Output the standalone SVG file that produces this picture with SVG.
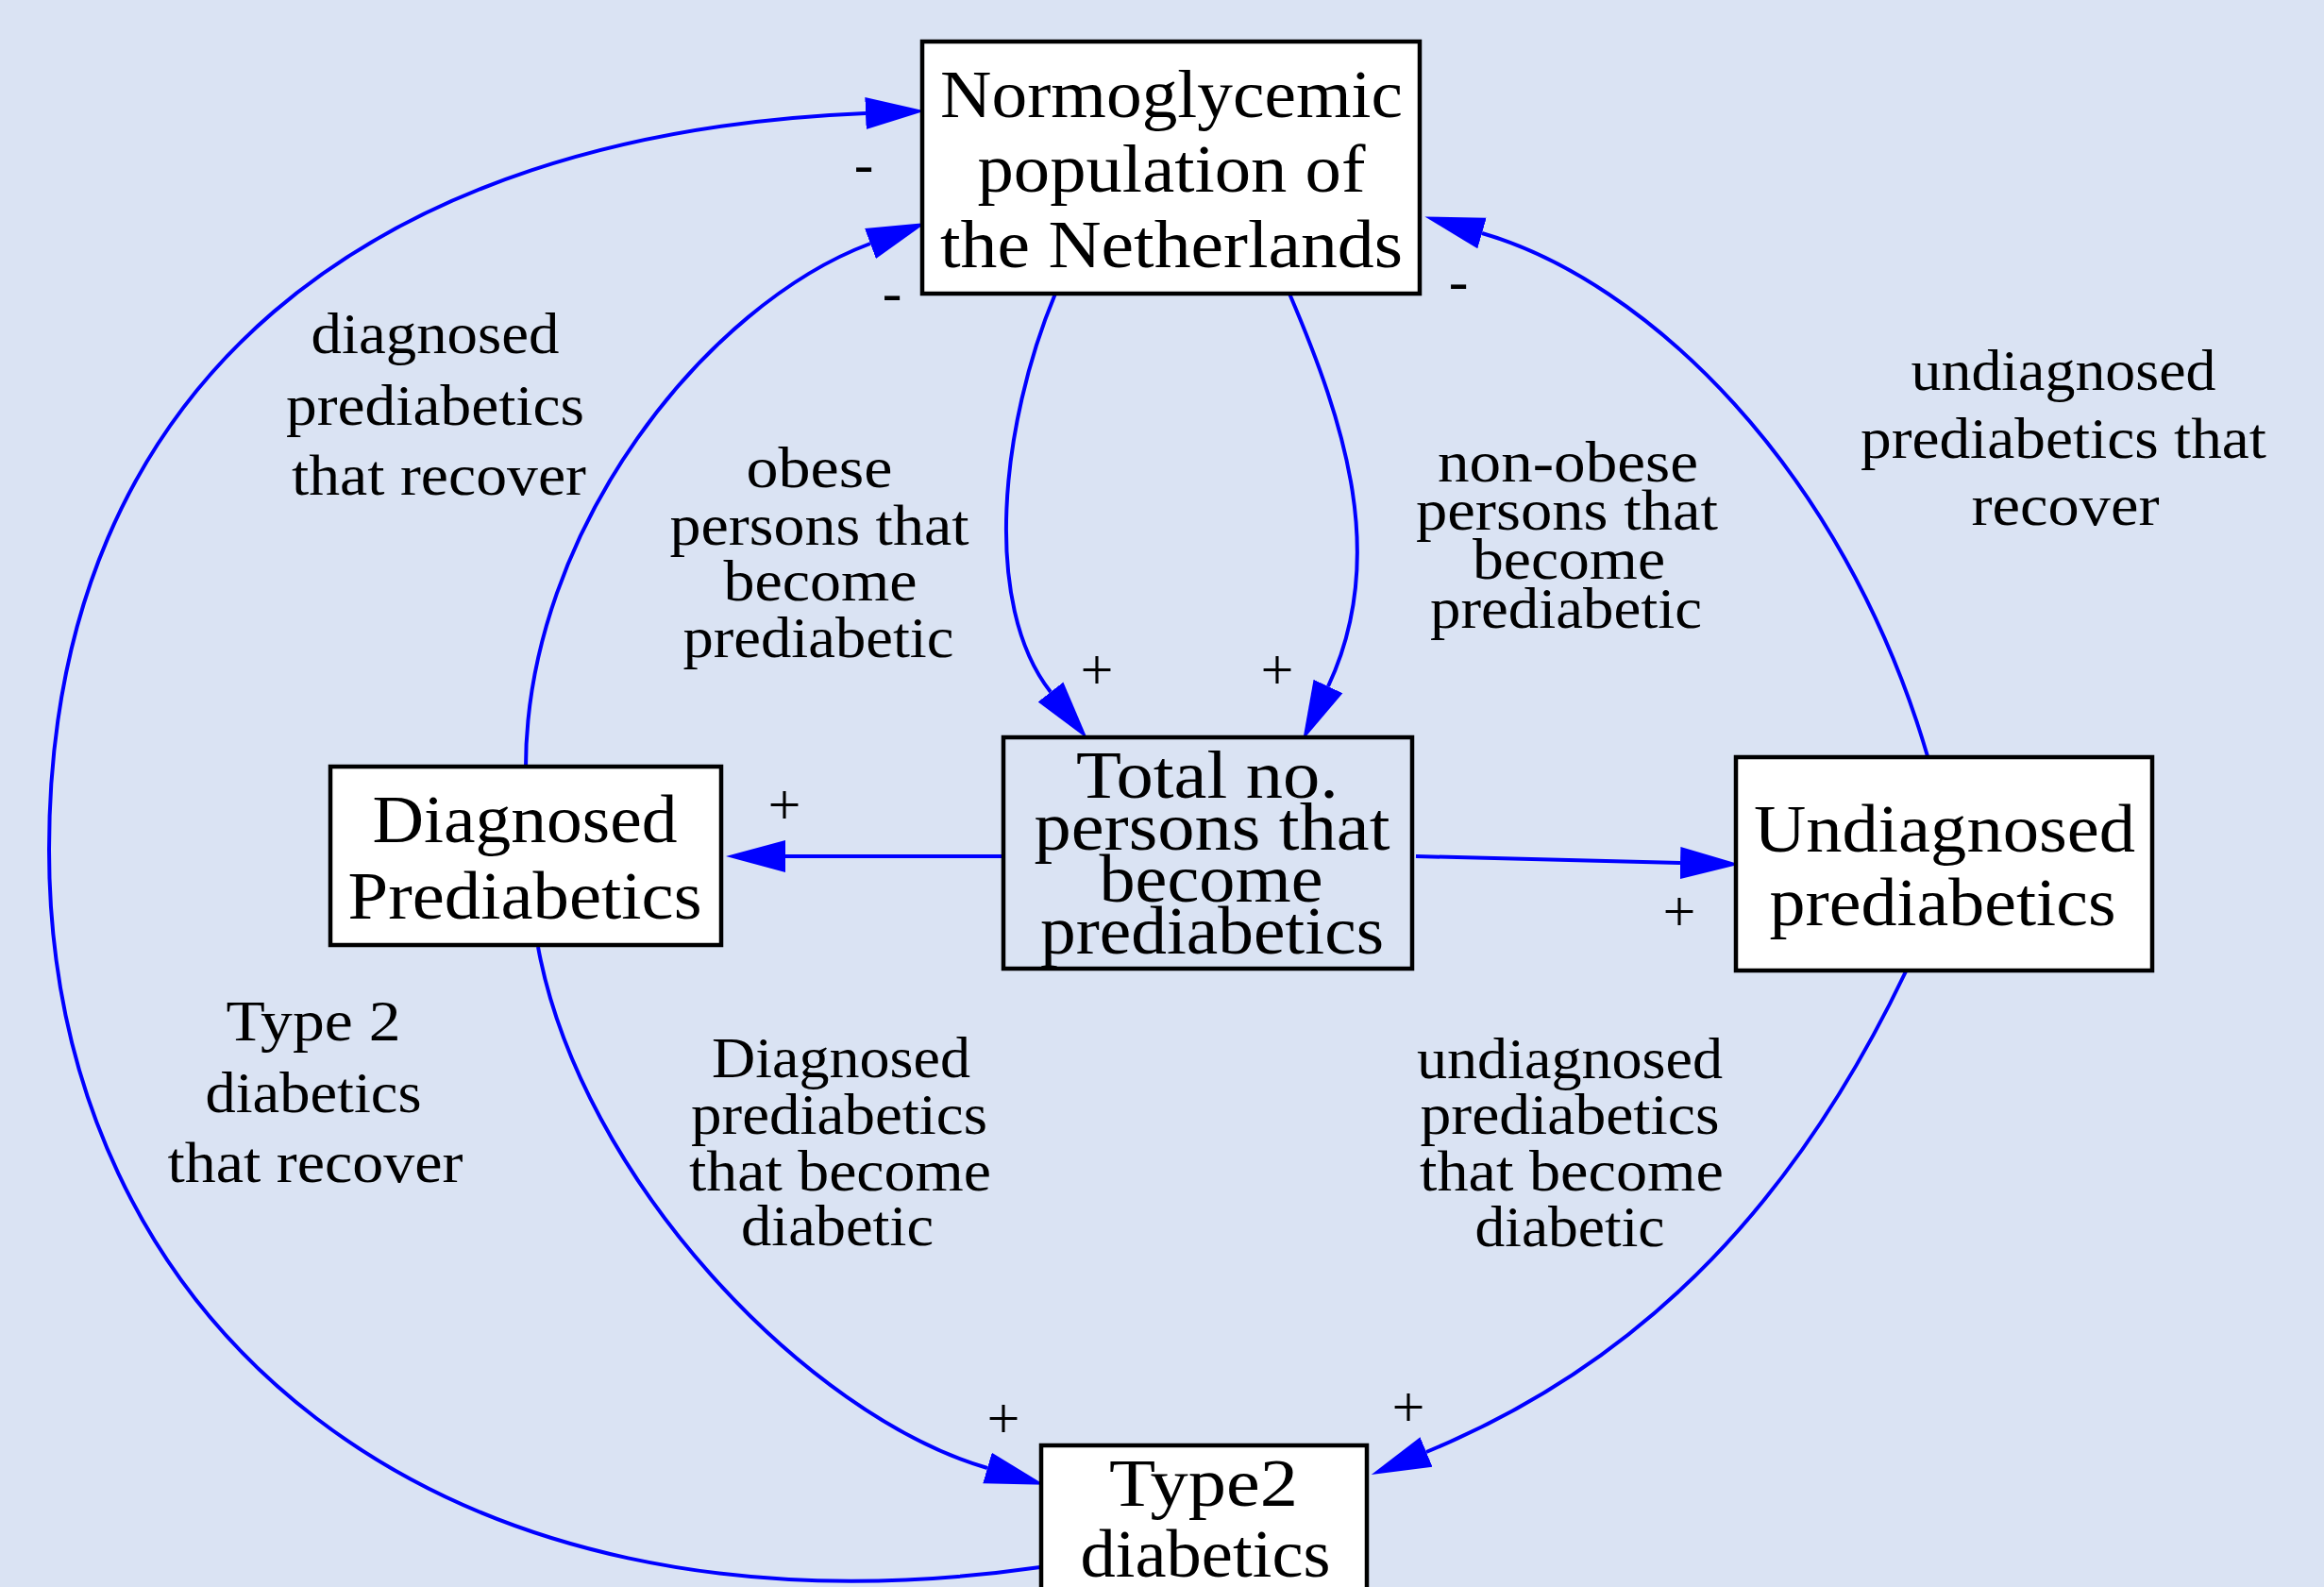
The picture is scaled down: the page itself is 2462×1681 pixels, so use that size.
<svg xmlns="http://www.w3.org/2000/svg" width="2462" height="1681" viewBox="0 0 2462 1681">
<style>
.bg{fill:#dae3f3}
.box{fill:#ffffff;stroke:#000000;stroke-width:4.5}
.box2{fill:#dae3f3;stroke:#000000;stroke-width:4.5}
.nt{font-family:"Liberation Serif","Times New Roman",serif;font-size:72px;fill:#000;text-anchor:middle}
.lt{font-family:"Liberation Serif","Times New Roman",serif;font-size:62px;fill:#000;text-anchor:middle}
.sg{font-family:"Liberation Serif","Times New Roman",serif;font-size:62px;fill:#000;text-anchor:middle}
.e{fill:none;stroke:#0000ff;stroke-width:4;marker-end:url(#arr)}
</style>
<defs>
<marker id="arr" markerUnits="userSpaceOnUse" markerWidth="64" markerHeight="36" refX="0" refY="18" orient="auto" viewBox="0 0 64 36">
<path d="M0,1 L63,18 L0,35 Z" fill="#0000ff"/>
</marker>
</defs>
<rect class="bg" x="0" y="0" width="2462" height="1681"/>

<g id="connectors">
<g id="e-diag-normo">
<path class="e" d="M557,813 C557,560 750,322 922,258"/>
<text class="lt" x="461" y="374" textLength="263" lengthAdjust="spacingAndGlyphs">diagnosed</text>
<text class="lt" x="461" y="450" textLength="316" lengthAdjust="spacingAndGlyphs">prediabetics</text>
<text class="lt" x="465" y="524" textLength="312" lengthAdjust="spacingAndGlyphs">that recover</text>
<text class="sg" x="945" y="330">-</text>
</g>
<g id="e-normo-total-obese">
<path class="e" d="M1118,311 C1060,450 1040,640 1113,733"/>
<text class="lt" x="868" y="516" textLength="155" lengthAdjust="spacingAndGlyphs">obese</text>
<text class="lt" x="868" y="577" textLength="317" lengthAdjust="spacingAndGlyphs">persons that</text>
<text class="lt" x="869" y="636" textLength="205" lengthAdjust="spacingAndGlyphs">become</text>
<text class="lt" x="867" y="696" textLength="287" lengthAdjust="spacingAndGlyphs">prediabetic</text>
<text class="sg" x="1162" y="730">+</text>
</g>
<g id="e-normo-total-nonobese">
<path class="e" d="M1366,311 C1425,449 1471,591 1407,727"/>
<text class="lt" x="1661" y="510" textLength="276" lengthAdjust="spacingAndGlyphs">non-obese</text>
<text class="lt" x="1660" y="561" textLength="320" lengthAdjust="spacingAndGlyphs">persons that</text>
<text class="lt" x="1662" y="613" textLength="204" lengthAdjust="spacingAndGlyphs">become</text>
<text class="lt" x="1659" y="665" textLength="288" lengthAdjust="spacingAndGlyphs">prediabetic</text>
<text class="sg" x="1353" y="730">+</text>
</g>
<g id="e-undiag-normo">
<path class="e" d="M2042,801 C1952,494 1743,297 1570,247"/>
<text class="lt" x="2186" y="413" textLength="323" lengthAdjust="spacingAndGlyphs">undiagnosed</text>
<text class="lt" x="2186" y="485" textLength="430" lengthAdjust="spacingAndGlyphs">prediabetics that</text>
<text class="lt" x="2188" y="556" textLength="199" lengthAdjust="spacingAndGlyphs">recover</text>
<text class="sg" x="1545" y="318">-</text>
</g>
<g id="e-type2-normo">
<path class="e" d="M1102,1660 C456,1752 52,1400 52,900 C52,400 398,141 917,120"/>
<text class="lt" x="332" y="1102" textLength="185" lengthAdjust="spacingAndGlyphs">Type 2</text>
<text class="lt" x="332" y="1178" textLength="229" lengthAdjust="spacingAndGlyphs">diabetics</text>
<text class="lt" x="334" y="1252" textLength="313" lengthAdjust="spacingAndGlyphs">that recover</text>
<text class="sg" x="915" y="194">-</text>
</g>
<g id="e-total-diag">
<path class="e" d="M1068,907 L832,907"/>
<text class="sg" x="831" y="873">+</text>
</g>
<g id="e-total-undiag">
<path class="e" d="M1500,907 L1780,914"/>
<text class="sg" x="1779" y="986">+</text>
</g>
<g id="e-diag-type2">
<path class="e" d="M570,1003 C615,1248 854,1499 1046,1555"/>
<text class="lt" x="891" y="1141" textLength="274" lengthAdjust="spacingAndGlyphs">Diagnosed</text>
<text class="lt" x="889" y="1201" textLength="314" lengthAdjust="spacingAndGlyphs">prediabetics</text>
<text class="lt" x="890" y="1261" textLength="320" lengthAdjust="spacingAndGlyphs">that become</text>
<text class="lt" x="887" y="1319" textLength="204" lengthAdjust="spacingAndGlyphs">diabetic</text>
<text class="sg" x="1063" y="1523">+</text>
</g>
<g id="e-undiag-type2">
<path class="e" d="M2019,1029 C1907,1263 1751,1439 1511,1538"/>
<text class="lt" x="1663" y="1142" textLength="324" lengthAdjust="spacingAndGlyphs">undiagnosed</text>
<text class="lt" x="1663" y="1201" textLength="317" lengthAdjust="spacingAndGlyphs">prediabetics</text>
<text class="lt" x="1665" y="1261" textLength="322" lengthAdjust="spacingAndGlyphs">that become</text>
<text class="lt" x="1663" y="1320" textLength="201" lengthAdjust="spacingAndGlyphs">diabetic</text>
<text class="sg" x="1492" y="1511">+</text>
</g>
</g>

<g id="node-normo">
<rect class="box" x="977" y="44" width="527" height="267"/>
<text class="nt" x="1241" y="124" textLength="490" lengthAdjust="spacingAndGlyphs">Normoglycemic</text>
<text class="nt" x="1241" y="203" textLength="411" lengthAdjust="spacingAndGlyphs">population of</text>
<text class="nt" x="1241" y="283" textLength="490" lengthAdjust="spacingAndGlyphs">the Netherlands</text>
</g>
<g id="node-diagnosed">
<rect class="box" x="350" y="812" width="414" height="189"/>
<text class="nt" x="556" y="892" textLength="323" lengthAdjust="spacingAndGlyphs">Diagnosed</text>
<text class="nt" x="556" y="973" textLength="375" lengthAdjust="spacingAndGlyphs">Prediabetics</text>
</g>
<g id="node-total">
<rect class="box2" x="1063" y="781" width="433" height="245"/>
<text class="nt" x="1279" y="845" textLength="278" lengthAdjust="spacingAndGlyphs">Total no.</text>
<text class="nt" x="1284" y="900" textLength="377" lengthAdjust="spacingAndGlyphs">persons that</text>
<text class="nt" x="1283" y="955" textLength="237" lengthAdjust="spacingAndGlyphs">become</text>
<text class="nt" x="1284" y="1010" textLength="364" lengthAdjust="spacingAndGlyphs">prediabetics</text>
</g>
<g id="node-undiagnosed">
<rect class="box" x="1839" y="802" width="441" height="226"/>
<text class="nt" x="2060" y="902" textLength="404" lengthAdjust="spacingAndGlyphs">Undiagnosed</text>
<text class="nt" x="2058" y="980" textLength="367" lengthAdjust="spacingAndGlyphs">prediabetics</text>
</g>
<g id="node-type2">
<rect class="box" x="1103" y="1531" width="345" height="180"/>
<text class="nt" x="1275" y="1595" textLength="200" lengthAdjust="spacingAndGlyphs">Type2</text>
<text class="nt" x="1277" y="1670" textLength="265" lengthAdjust="spacingAndGlyphs">diabetics</text>
</g>
</svg>
